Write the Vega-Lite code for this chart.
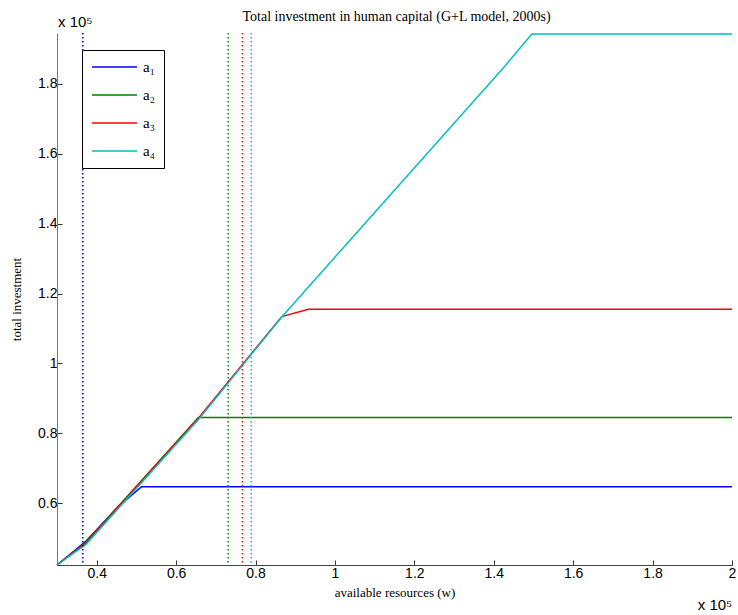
{
  "$schema": "https://vega.github.io/schema/vega-lite/v6.json",
  "autosize": {"type": "none"},
  "padding": {"left": 57, "top": 33, "right": 6, "bottom": 50},
  "width": 675,
  "height": 532,
  "background": "white",
  "title": {
    "text": "Total investment in human capital (G+L model, 2000s)",
    "font": "Liberation Serif",
    "fontSize": 14,
    "fontWeight": "normal",
    "color": "black",
    "anchor": "middle",
    "frame": "group",
    "baseline": "alphabetic",
    "offset": -20,
    "dx": 2
  },
  "datasets": {
    "lines": [
      {"series": "a₁", "w": 30000, "inv": 42300},
      {"series": "a₁", "w": 37100, "inv": 48900},
      {"series": "a₁", "w": 45400, "inv": 59000},
      {"series": "a₁", "w": 51300, "inv": 64700},
      {"series": "a₁", "w": 200000, "inv": 64700},
      {"series": "a₂", "w": 30000, "inv": 42300},
      {"series": "a₂", "w": 37100, "inv": 48600},
      {"series": "a₂", "w": 65600, "inv": 84500},
      {"series": "a₂", "w": 200000, "inv": 84500},
      {"series": "a₃", "w": 30000, "inv": 42300},
      {"series": "a₃", "w": 37100, "inv": 48400},
      {"series": "a₃", "w": 65600, "inv": 84300},
      {"series": "a₃", "w": 86600, "inv": 113400},
      {"series": "a₃", "w": 93300, "inv": 115500},
      {"series": "a₃", "w": 200000, "inv": 115500},
      {"series": "a₄", "w": 30000, "inv": 42300},
      {"series": "a₄", "w": 37300, "inv": 48200},
      {"series": "a₄", "w": 65800, "inv": 84200},
      {"series": "a₄", "w": 86600, "inv": 113300},
      {"series": "a₄", "w": 143000, "inv": 185400},
      {"series": "a₄", "w": 149600, "inv": 194300},
      {"series": "a₄", "w": 200000, "inv": 194300}
    ],
    "vlines": [
      {"series": "a₁", "w": 36500},
      {"series": "a₂", "w": 73100},
      {"series": "a₃", "w": 76700},
      {"series": "a₄", "w": 78900}
    ],
    "notes": [
      {"lbl": "x 10⁵", "w": 30000, "inv": 194600, "pos": "top"},
      {"lbl": "x 10⁵", "w": 200000, "inv": 42300, "pos": "bottom"}
    ]
  },
  "layer": [
    {
      "data": {"name": "lines"},
      "mark": {"type": "line", "strokeWidth": 1.5},
      "encoding": {
        "x": {
          "field": "w", "type": "quantitative",
          "scale": {"domain": [30000, 200000], "nice": false, "zero": false},
          "axis": {
            "values": [40000, 60000, 80000, 100000, 120000, 140000, 160000, 180000, 200000],
            "labelExpr": "format(datum.value/100000, '')",
            "title": "available resources (w)",
            "titleFont": "Liberation Serif", "titleFontSize": 13, "titleFontWeight": "normal", "titleColor": "black",
            "titlePadding": 6,
            "labelFont": "Liberation Sans", "labelFontSize": 14, "labelColor": "black",
            "labelPadding": 6,
            "tickSize": -5, "tickColor": "#333", "domainColor": "#444", "grid": false, "labelFlush": false
          }
        },
        "y": {
          "field": "inv", "type": "quantitative",
          "scale": {"domain": [42300, 194600], "nice": false, "zero": false},
          "axis": {
            "values": [60000, 80000, 100000, 120000, 140000, 160000, 180000],
            "labelExpr": "format(datum.value/100000, '')",
            "title": "total investment",
            "titleFont": "Liberation Serif", "titleFontSize": 13, "titleFontWeight": "normal", "titleColor": "black",
            "titlePadding": 14,
            "labelFont": "Liberation Sans", "labelFontSize": 14, "labelColor": "black",
            "labelPadding": 5,
            "tickSize": -5, "tickColor": "#333", "domainColor": "#777", "grid": false
          }
        },
        "color": {
          "field": "series", "type": "nominal",
          "scale": {"domain": ["a₁", "a₂", "a₃", "a₄"], "range": ["#0000FF", "#008000", "#FF0000", "#00BFBF"]},
          "legend": {
            "orient": "none", "legendX": 25, "legendY": 17,
            "title": null,
            "symbolType": "stroke", "symbolSize": 2025, "symbolStrokeWidth": 1.5,
            "clipHeight": 16, "rowPadding": 12,
            "labelFont": "Liberation Serif", "labelFontSize": 15, "labelColor": "black", "labelOffset": 5,
            "padding": 9, "strokeColor": "black", "fillColor": "white"
          }
        }
      }
    },
    {
      "data": {"name": "vlines"},
      "mark": {"type": "rule", "strokeDash": [1.5, 2.5], "strokeWidth": 1.5},
      "encoding": {
        "x": {"field": "w", "type": "quantitative"},
        "color": {"field": "series", "type": "nominal"}
      }
    },
    {
      "data": {"name": "notes"},
      "transform": [{"filter": "datum.pos == 'top'"}],
      "mark": {"type": "text", "font": "Liberation Sans", "fontSize": 15, "align": "left", "baseline": "alphabetic", "dx": 1, "dy": -6, "color": "black"},
      "encoding": {
        "x": {"field": "w", "type": "quantitative"},
        "y": {"field": "inv", "type": "quantitative"},
        "text": {"field": "lbl"}
      }
    },
    {
      "data": {"name": "notes"},
      "transform": [{"filter": "datum.pos == 'bottom'"}],
      "mark": {"type": "text", "font": "Liberation Sans", "fontSize": 15, "align": "center", "baseline": "alphabetic", "dx": -17, "dy": 45, "color": "black"},
      "encoding": {
        "x": {"field": "w", "type": "quantitative"},
        "y": {"field": "inv", "type": "quantitative"},
        "text": {"field": "lbl"}
      }
    }
  ],
  "config": {"view": {"stroke": null}}
}
